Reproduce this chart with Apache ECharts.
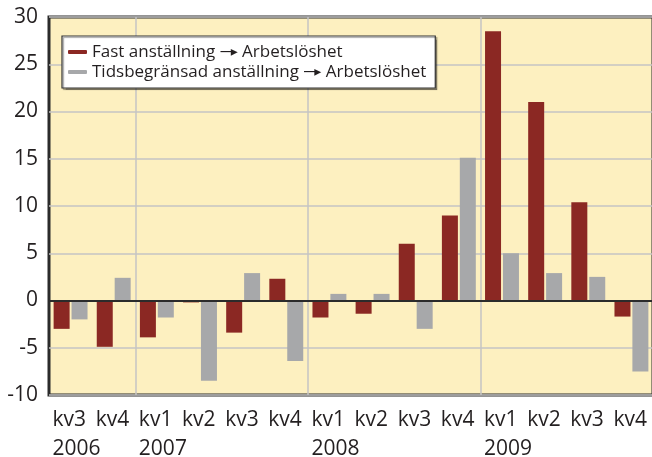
<!DOCTYPE html>
<html>
<head>
<meta charset="utf-8">
<script src="https://cdn.jsdelivr.net/npm/echarts@6/dist/echarts.min.js"></script>
<style>
    html, body { margin: 0; padding: 0; background: #ffffff; }
    #chart { width: 652px; height: 457px; }
</style>
</head>
<body>
<div id="chart"></div>
<script>
// quarters and the year shown under the first quarter of each year
const quarters = ['kv3', 'kv4', 'kv1', 'kv2', 'kv3', 'kv4', 'kv1', 'kv2', 'kv3', 'kv4', 'kv1', 'kv2', 'kv3', 'kv4'];
const years = ['2006', '', '2007', '', '', '', '2008', '', '', '', '2009', '', '', ''];
const seriesNames = ['Fast anställning \u2192 Arbetslöshet', 'Tidsbegränsad anställning \u2192 Arbetslöshet'];
const fastValues = [-3.0, -4.9, -3.9, -0.2, -3.4, 2.3, -1.8, -1.4, 6.0, 9.0, 28.5, 21.0, 10.4, -1.7];
const tidsValues = [-2.0, 2.4, -1.8, -8.5, 2.9, -6.4, 0.7, 0.7, -3.0, 15.1, 5.0, 2.9, 2.5, -7.5];
const yTicks = { min: -10, max: 30, step: 5 };

(function(){
    let fontFam = '"Open Sans", "Noto Sans", sans-serif';
    let textCol = '#231f20';
    // unique category keys so repeated quarter names stay separate
    let catKeys = quarters.map((q, i) => q + '_' + i);
    // boundaries between years get a vertical grid line
    let yearStarts = years.map((y, i) => y !== '' ? i : -1).filter(i => i > 0);

    let chart = echarts.init(document.getElementById('chart'));
    chart.setOption({
        animation: false,
        color: ['#8b2823', '#a7a8aa'],
        grid: {
            left: 49, right: -1, top: 17, bottom: 62,
            outerBoundsMode: 'none',
            containLabel: false,
            show: true,
            backgroundColor: '#fdf0c0',
            borderColor: '#2b2b2b',
            borderWidth: 3
        },
        legend: {
            data: seriesNames,
            orient: 'vertical',
            left: 62, top: 36,
            padding: [6, 9, 6, 6],
            itemGap: 0,
            itemWidth: 19,
            itemHeight: 4,
            icon: 'roundRect',
            backgroundColor: '#ffffff',
            borderColor: '#333333',
            borderWidth: 1.2,
            borderRadius: 0,
            shadowColor: 'rgba(0,0,0,0.35)',
            shadowOffsetX: 1.5,
            shadowOffsetY: 1.5,
            shadowBlur: 1,
            // draw the arrow as a line with a filled head
            formatter: (name) => {
                let parts = name.split(' \u2192 ');
                return '{t|' + parts[0] + ' }{ln|\u2014}{hd|\u25B8}{t| ' + parts[1] + '}';
            },
            textStyle: {
                fontFamily: fontFam, fontSize: 17, color: textCol, lineHeight: 20,
                rich: {
                    t: { fontFamily: fontFam, fontSize: 17, color: textCol, lineHeight: 20 },
                    ln: { fontFamily: '"DejaVu Sans"', fontSize: 15, color: textCol, lineHeight: 20 },
                    hd: { fontFamily: '"DejaVu Sans"', fontSize: 14, color: textCol, lineHeight: 20, padding: [0, 0, 0, -4] }
                }
            }
        },
        xAxis: {
            type: 'category',
            data: catKeys,
            axisLine: { show: false, onZero: false },
            axisTick: { show: false },
            splitLine: {
                show: true,
                interval: (i) => yearStarts.indexOf(i) >= 0,
                lineStyle: { color: '#c4c4c4', width: 1.5 }
            },
            axisLabel: {
                interval: 0,
                margin: 11,
                formatter: (v, i) => '{q|' + quarters[i] + '}\n{q|' + years[i] + '}',
                rich: {
                    q: { fontFamily: fontFam, fontSize: 21, color: textCol, width: 36, align: 'left', lineHeight: 29 }
                }
            }
        },
        yAxis: {
            type: 'value',
            min: yTicks.min, max: yTicks.max, interval: yTicks.step,
            axisLine: { show: false },
            axisTick: { show: false },
            splitLine: { show: true, lineStyle: { color: '#c4c4c4', width: 1.5 } },
            axisLabel: { fontFamily: fontFam, fontSize: 21, color: textCol, margin: 11 }
        },
        series: [
            {
                name: seriesNames[0],
                type: 'bar',
                data: fastValues,
                barWidth: 16,
                barGap: '12%',
                markLine: {
                    silent: true,
                    symbol: 'none',
                    label: { show: false },
                    lineStyle: { color: '#2b2b2b', width: 2, type: 'solid' },
                    data: [{ yAxis: 0 }]
                }
            },
            {
                name: seriesNames[1],
                type: 'bar',
                data: tidsValues,
                barWidth: 16,
                barGap: '12%'
            }
        ]
    });
})();
</script>
</body>
</html>
